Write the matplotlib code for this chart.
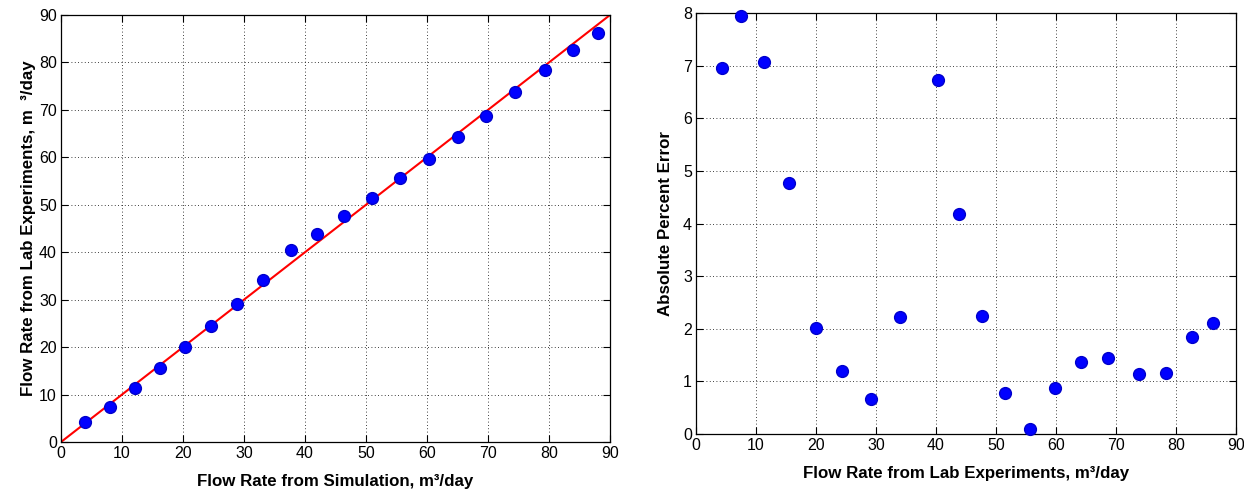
import matplotlib
matplotlib.use("Agg")
import matplotlib.pyplot as plt
from matplotlib import font_manager

# Flow rates (m^3/day): simulation vs. lab experiments
sim_flow = [3.95, 8.0, 12.1, 16.2, 20.35, 24.6, 28.9, 33.15, 37.65, 41.95,
            46.35, 51.05, 55.6, 60.3, 65.0, 69.7, 74.5, 79.3, 84.0, 88.05]
lab_flow = [4.25, 7.45, 11.3, 15.55, 20.05, 24.35, 29.15, 34.05, 40.4, 43.85,
            47.7, 51.45, 55.65, 59.75, 64.2, 68.7, 73.75, 78.4, 82.7, 86.15]
# Absolute percent error for each run
abs_pct_error = [6.95, 7.95, 7.07, 4.77, 2.02, 1.19, 0.67, 2.23, 6.73, 4.19,
                 2.25, 0.78, 0.09, 0.88, 1.37, 1.44, 1.14, 1.16, 1.85, 2.10]

ticks_x = list(range(0, 91, 10))
ticks_left_y = list(range(0, 91, 10))
ticks_right_y = list(range(0, 9))

installed = {f.name for f in font_manager.fontManager.ttflist}
tick_family = "Liberation Sans Narrow" if "Liberation Sans Narrow" in installed else "Liberation Sans"
label_family = "Liberation Sans"
label_size = 12.2

W, H = 1244, 496
fig = plt.figure(figsize=(W / 100, H / 100), dpi=100)


def box(x0, y0, x1, y1):
    return [x0 / W, 1 - y1 / H, (x1 - x0) / W, (y1 - y0) / H]


def style(ax, yticks, ylim):
    ax.set_xlim(0, 90)
    ax.set_ylim(*ylim)
    ax.set_xticks(ticks_x)
    ax.set_yticks(yticks)
    ax.grid(True, color="black", linestyle=(0, (1, 3)), linewidth=0.6)
    ax.set_axisbelow(True)
    ax.tick_params(direction="in", top=True, right=True, length=5, width=0.8,
                   labelsize=11.5, pad=3)
    for lbl in ax.get_xticklabels() + ax.get_yticklabels():
        lbl.set_family(tick_family)
    for s in ax.spines.values():
        s.set_linewidth(0.9)


ax1 = fig.add_axes(box(61, 15, 610, 442))
style(ax1, ticks_left_y, (0, 90))
ax1.plot([0, 90], [0, 90], color="red", linewidth=1.5, zorder=2)
ax1.plot(sim_flow, lab_flow, linestyle="none", marker="o", markersize=8.5,
         markerfacecolor="#0000ff", markeredgecolor="#0000cc", zorder=3,
         clip_on=False)
ax1.set_xlabel("Flow Rate from Simulation, m³/day", family=label_family,
               fontweight="bold", fontsize=label_size, labelpad=9)
ax1.set_ylabel("Flow Rate from Lab Experiments, m  ³/day", family=label_family,
               fontweight="bold", fontsize=label_size, labelpad=2)

ax2 = fig.add_axes(box(696, 13, 1236, 434))
style(ax2, ticks_right_y, (0, 8))
ax2.plot(lab_flow, abs_pct_error, linestyle="none", marker="o", markersize=8.5,
         markerfacecolor="#0000ff", markeredgecolor="#0000cc", zorder=3,
         clip_on=False)
ax2.set_xlabel("Flow Rate from Lab Experiments, m³/day", family=label_family,
               fontweight="bold", fontsize=label_size, labelpad=9)
ax2.set_ylabel("Absolute Percent Error", family=label_family,
               fontweight="bold", fontsize=label_size, labelpad=7)

fig.savefig("out.png", dpi=100)
